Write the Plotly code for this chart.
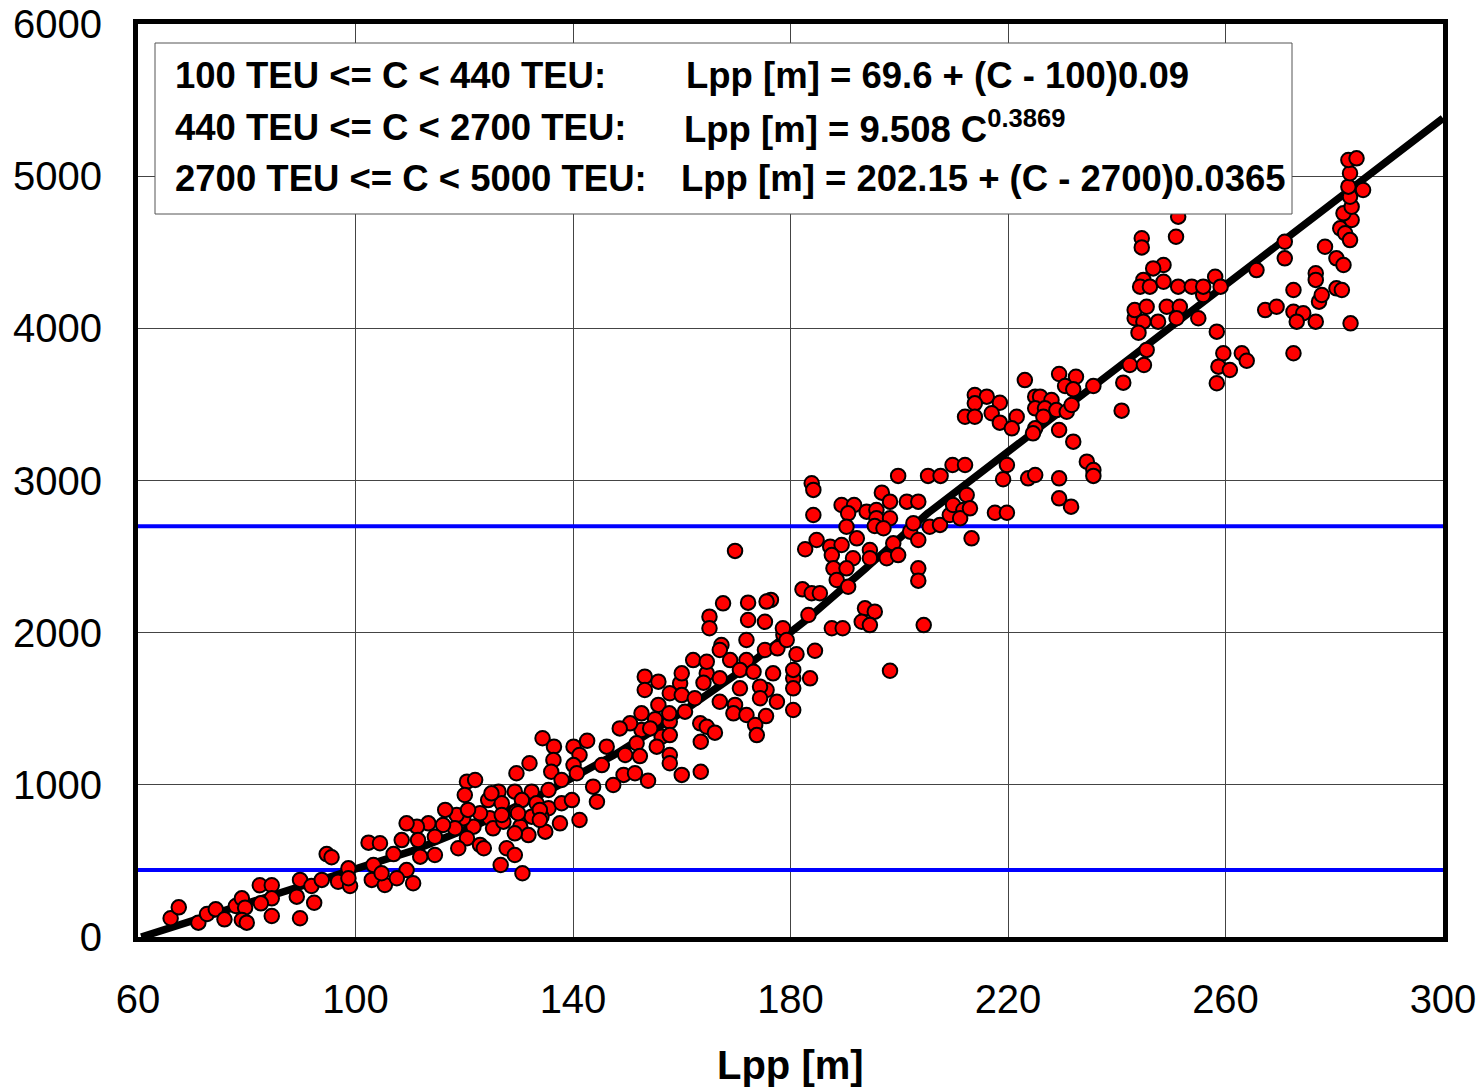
import numpy as np
import plotly.graph_objects as go

# Container ship database: length between perpendiculars [m] vs. capacity [TEU]
lpp_feeder = [66.0, 67.5, 71.1, 72.7, 74.3, 75.9, 78.0, 79.1, 79.7, 79.1, 80.0, 82.4,
              84.6, 84.6, 82.6, 84.6, 89.8, 91.9, 89.2, 92.4, 89.8, 94.7, 95.6, 93.8,
              96.8, 98.7, 99.0, 102.4, 104.5, 103.3, 103.0, 105.4, 107.0, 108.5, 109.4]
teu_feeder = [123, 195, 94, 151, 182, 116, 204, 254, 193, 112, 94, 340,
              340, 254, 221, 138, 375, 335, 265, 225, 123, 545, 524, 375,
              363, 451, 335, 620, 616, 473, 375, 342, 545, 637, 440]

lpp_small = [134.4, 136.5, 132.0, 136.4, 140.1, 142.6, 141.2, 140.1, 129.6, 136.0,
             137.9, 140.7, 143.7, 144.4, 146.2, 149.6, 149.3, 147.4, 151.4, 145.3,
             120.5, 122.0, 120.1, 124.4, 126.3, 126.9, 129.3, 132.4, 135.5, 130.6,
             133.3, 135.5, 137.9, 139.8, 129.6, 132.4, 134.2, 137.6, 141.2, 130.3,
             131.8, 134.9, 129.3, 124.7, 125.3, 127.2, 122.9, 121.7, 119.8, 118.6,
             116.5, 118.3, 120.5, 122.9, 123.6, 118.9, 116.1, 114.6, 113.4, 111.3,
             109.4, 111.5, 114.6, 111.9, 110.6, 104.8, 127.8, 129.3, 126.7, 130.7]
teu_small = [1306, 1251, 1142, 1163, 1251, 1290, 1196, 1130, 1076, 1086,
             1032, 1076, 988, 889, 1251, 1196, 1065, 999, 1076, 1130,
             1021, 1032, 933, 900, 955, 879, 955, 955, 966, 900,
             879, 846, 879, 900, 823, 791, 791, 747, 769, 725,
             670, 692, 681, 780, 714, 758, 813, 725, 780, 802,
             835, 714, 649, 605, 583, 583, 736, 659, 747, 725,
             747, 637, 539, 528, 353, 419, 583, 539, 473, 419]

lpp_medium = [167.6, 172.2, 176.4, 175.6, 165.1, 165.1, 172.2, 175.3, 178.6, 182.2,
              183.9, 183.3, 171.9, 167.0, 162.1, 164.6, 168.9, 171.9, 175.3, 177.6,
              181.1, 184.5, 153.2, 153.2, 155.7, 157.8, 160.0, 160.0, 164.0, 167.0,
              170.7, 173.2, 176.8, 180.5, 183.6, 180.5, 170.7, 174.4, 162.4, 155.7,
              167.0, 169.8, 169.5, 171.9, 174.4, 177.5, 175.5, 173.5, 173.8, 180.5,
              152.6, 155.1, 157.7, 160.6, 154.2, 150.5, 148.6, 157.8, 155.4, 163.4,
              164.6, 166.1, 163.5, 151.7, 152.3, 157.8, 157.8, 160.0, 163.5, 153.8,
              169.8]
teu_medium = [2193, 2197, 2215, 2204, 2105, 2029, 2083, 2072, 2029, 2285,
              2259, 2116, 1952, 1886, 1820, 1809, 1820, 1820, 1886, 1897,
              1858, 1881, 1711, 1623, 1678, 1602, 1733, 1590, 1671, 1700,
              1755, 1743, 1733, 1755, 1700, 1634, 1634, 1645, 1569, 1525,
              1546, 1525, 1470, 1459, 1569, 1546, 1452, 1393, 1327, 1492,
              1470, 1431, 1470, 1481, 1371, 1404, 1371, 1327, 1251, 1404,
              1382, 1343, 1283, 1273, 1189, 1196, 1142, 1065, 1086, 1027,
              2537]

lpp_large = [183.9, 184.2, 184.2, 189.4, 191.7, 190.6, 199.8, 205.3, 207.6, 209.8,
             212.1, 196.8, 198.3, 201.4, 203.5, 194.0, 195.8, 195.8, 198.3, 195.5,
             197.1, 190.3, 192.2, 184.8, 182.7, 187.3, 189.4, 187.6, 191.5, 187.9,
             190.3, 188.5, 190.6, 185.4, 194.6, 194.6, 197.7, 198.9, 199.8, 202.0,
             203.5, 202.6, 205.6, 207.5, 209.3, 209.9, 211.8, 212.4, 213.3, 211.2,
             203.5, 203.5, 193.7, 195.5, 193.1, 194.6, 187.6, 189.6, 204.5, 179.3,
             198.3]
teu_large = [2982, 2938, 2773, 2839, 2839, 2784, 3030, 3030, 3030, 3102,
             3102, 2920, 2861, 2861, 2861, 2795, 2806, 2752, 2752, 2701,
             2686, 2696, 2620, 2609, 2548, 2565, 2576, 2510, 2489, 2423,
             2423, 2346, 2302, 2259, 2543, 2489, 2489, 2587, 2510, 2664,
             2609, 2719, 2696, 2708, 2773, 2839, 2806, 2905, 2620, 2752,
             2423, 2342, 2160, 2138, 2072, 2050, 2029, 2029, 2050, 1952,
             1750]

lpp_panamax = [223.1, 229.4, 232.5, 230.5, 232.0, 235.7, 241.2, 242.4, 245.0, 245.5,
               240.9, 213.9, 216.1, 218.5, 213.9, 212.1, 213.9, 217.0, 218.5, 221.6,
               220.7, 225.0, 225.9, 228.0, 225.0, 226.8, 228.9, 230.8, 231.7, 226.5,
               225.0, 224.6, 229.4, 232.0, 219.8, 219.1, 223.7, 225.0, 229.4, 234.5,
               235.7, 235.7, 229.4, 231.6, 213.0, 217.6, 219.8]
teu_panamax = [3660, 3700, 3682, 3621, 3599, 3621, 3643, 3759, 3759, 3858,
               3459, 3562, 3551, 3511, 3507, 3419, 3419, 3442, 3380, 3419,
               3343, 3551, 3551, 3529, 3474, 3474, 3463, 3452, 3496, 3419,
               3343, 3310, 3332, 3255, 3102, 3008, 3014, 3036, 3014, 3124,
               3069, 3030, 2883, 2828, 2817, 2788, 2788]

lpp_post = [251.3, 250.9, 244.6, 244.6, 248.6, 246.7, 244.9, 244.3, 246.1, 248.6,
            251.3, 253.8, 255.9, 258.1, 259.1, 243.3, 245.5, 249.2, 251.6, 244.9,
            247.6, 251.0, 255.0, 244.0, 258.4, 259.6, 263.0, 263.9, 258.7, 260.8,
            258.4, 265.7, 270.9, 270.9, 272.5, 267.3, 269.4, 272.5, 274.3, 273.1,
            276.6, 272.5, 276.6, 276.6, 277.2, 277.7, 280.4, 281.4, 283.0, 278.3,
            280.4, 281.7, 281.1, 282.0, 282.9, 283.2, 281.7, 283.2, 282.9, 285.3,
            282.6, 282.9, 282.6, 284.1]
teu_post = [4734, 4602, 4592, 4532, 4416, 4394, 4318, 4274, 4274, 4306,
            4274, 4274, 4274, 4339, 4274, 4120, 4142, 4142, 4142, 4044,
            4044, 4066, 4066, 3971, 3978, 3836, 3836, 3787, 3748, 3726,
            3639, 4383, 4569, 4460, 4252, 4120, 4142, 4109, 4099, 4044,
            4044, 3836, 4362, 4318, 4175, 4219, 4263, 4252, 4033, 4536,
            4460, 4416, 4657, 4625, 4580, 4712, 4756, 4799, 4865, 4909,
            4931, 5019, 5106, 5117]

lpp_misc = [125.0, 120.7, 126.9, 129.9, 133.9, 133.9, 255.9, 243.3, 98.7, 107.6,
            167.3, 178.7, 164.6, 180.5, 159.7, 175.6, 157.8, 152.6, 156.3]
teu_misc = [944, 835, 802, 813, 835, 769, 4219, 4066, 386, 386,
            1919, 1985, 1733, 1700, 1667, 1623, 1415, 1360, 1316]

# Capacity band limits [TEU]
band_limits = [440, 2700]

# Regression coefficients as stated in the formula box
feeder_base, feeder_ref, feeder_slope = 69.6, 100.0, 0.09
power_coef, power_exp = 9.508, 0.3869
large_base, large_ref, large_slope = 202.15, 2700.0, 0.0365

x_ticks = [60, 100, 140, 180, 220, 260, 300]
y_ticks = [0, 1000, 2000, 3000, 4000, 5000, 6000]
x_range = [60, 300]
y_range = [0, 6000]

lpp_all = (lpp_feeder + lpp_small + lpp_misc + lpp_medium + lpp_large
           + lpp_panamax + lpp_post)
teu_all = (teu_feeder + teu_small + teu_misc + teu_medium + teu_large
           + teu_panamax + teu_post)

# Piecewise regression Lpp(C), evaluated along capacity up to Lpp = 300 m
c_end = large_ref + (x_range[1] - large_base) / large_slope
cap = np.linspace(0, c_end, 600)
lpp_fit = np.where(
    cap < band_limits[0],
    feeder_base + (cap - feeder_ref) * feeder_slope,
    np.where(cap < band_limits[1],
             power_coef * np.power(np.maximum(cap, 1), power_exp),
             large_base + (cap - large_ref) * large_slope))

fig = go.Figure()

for lim in band_limits:
    fig.add_trace(go.Scatter(x=x_range, y=[lim, lim], mode="lines",
                             line=dict(color="#0000FF", width=4),
                             hoverinfo="skip", showlegend=False))

fig.add_trace(go.Scatter(x=lpp_fit, y=cap, mode="lines",
                         line=dict(color="black", width=7.5),
                         hoverinfo="skip", showlegend=False))

fig.add_trace(go.Scatter(x=lpp_all, y=teu_all, mode="markers",
                         marker=dict(color="#FF0000", size=14.5,
                                     line=dict(color="black", width=2)),
                         showlegend=False))

font_main = "Liberation Sans, Arial, sans-serif"

fig.update_xaxes(range=x_range, tickvals=x_ticks, showgrid=True,
                 gridcolor="#444444", gridwidth=1, zeroline=False,
                 showline=True, linecolor="black", linewidth=5, mirror=True,
                 ticks="", ticklabelstandoff=23, automargin=False,
                 tickfont=dict(family=font_main, size=40, color="black"))
fig.update_yaxes(range=y_range, tickvals=y_ticks, showgrid=True,
                 gridcolor="#444444", gridwidth=1, zeroline=False,
                 showline=True, linecolor="black", linewidth=5, mirror=True,
                 ticks="", ticklabelstandoff=23, automargin=False,
                 tickfont=dict(family=font_main, size=40, color="black"))

W, H = 1481, 1089
L, R, T, B = 138, 38, 24, 152
pw, ph = W - L - R, H - T - B


def px(x):
    return (x - L) / pw


def py(y):
    return (H - B - y) / ph


# Formula box
fig.add_shape(type="rect", xref="paper", yref="paper",
              x0=px(155), x1=px(1292), y0=py(214), y1=py(43),
              fillcolor="white", line=dict(color="#555555", width=1),
              layer="above")

box_rows = [
    ("100 TEU &lt;= C &lt; 440 TEU:", "Lpp [m] = 69.6 + (C - 100)0.09", 684, 75.5),
    ("440 TEU &lt;= C &lt; 2700 TEU:", "Lpp [m] = 9.508 C<sup>0.3869</sup>", 682, 127),
    ("2700 TEU &lt;= C &lt; 5000 TEU:", "Lpp [m] = 202.15 + (C - 2700)0.0365", 679, 178),
]
for left_txt, right_txt, rx, ry in box_rows:
    fig.add_annotation(xref="paper", yref="paper", x=px(173), y=py(ry),
                       xanchor="left", yanchor="middle", showarrow=False,
                       text="<b>" + left_txt + "</b>",
                       font=dict(family=font_main, size=36.5, color="black"))
    fig.add_annotation(xref="paper", yref="paper", x=px(rx), y=py(ry),
                       xanchor="left", yanchor="middle", showarrow=False,
                       text="<b>" + right_txt + "</b>",
                       font=dict(family=font_main, size=36.5, color="black"))

# Axis title
fig.add_annotation(xref="paper", yref="paper", x=0.5, y=py(1065),
                   xanchor="center", yanchor="middle", showarrow=False,
                   text="<b>Lpp [m]</b>",
                   font=dict(family=font_main, size=40, color="black"))

fig.update_layout(width=W, height=H,
                  margin=dict(l=L, r=R, t=T, b=B),
                  paper_bgcolor="white", plot_bgcolor="white",
                  showlegend=False)

fig.write_html("out.html")
